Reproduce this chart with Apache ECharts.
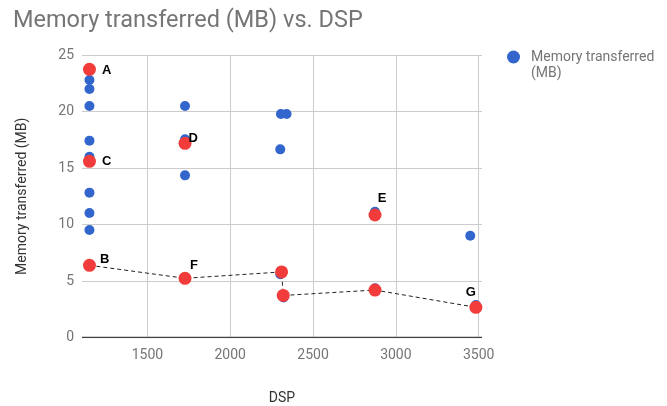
<!DOCTYPE html>
<html>
<head>
<meta charset="utf-8">
<script src="https://cdn.jsdelivr.net/npm/echarts@6/dist/echarts.min.js"></script>
<style>
html,body{margin:0;padding:0;background:#fff;}
#chart{width:667px;height:406px;}
</style>
</head>
<body>
<div id="chart"></div>
<script>
// Blue series: DSP and memory transferred (MB)
var blueDSP = [1150,1150,1150,1150,1150,1150,1150,1150,1727,1727,1727,2306,2340,2302,2302,2322,2874,2874,3449,3483];
var blueMB  = [22.79,21.99,20.49,17.42,16.0,12.82,11.02,9.51,20.49,17.54,14.35,19.78,19.78,16.65,5.6,3.55,11.13,4.35,9.01,2.87];

// Highlighted (red) points
var redDSP   = [1150,1150,1150,1727,1727,2310,2320,2874,2874,3483];
var redMB    = [23.73,15.59,6.39,17.18,5.24,5.80,3.72,10.84,4.20,2.67];
var redLabel = ['A','C','B','D','F','','','E','','G'];

// Dashed connecting line (indices into red points)
var lineOrder = [2,4,5,6,8,9];

var titleText = 'Memory transferred (MB) vs. DSP';
var seriesName = 'Memory transferred (MB)';
var legendLine1 = 'Memory transferred';
var legendLine2 = '(MB)';
var xName = 'DSP';
var yName = 'Memory transferred (MB)';

var labelStyles = {
  A: {position:'right', offset:[1,1]},
  B: {position:'right', offset:[-1,-6]},
  C: {position:'right', offset:[1,0]},
  D: {position:'right', offset:[-8,-5]},
  E: {position:'top', offset:[7,1]},
  F: {position:'top', offset:[9,5]},
  G: {position:'top', offset:[-5,3]}
};

var blueData = blueDSP.map(function(x,i){return [x, blueMB[i]];});
var redData = redDSP.map(function(x,i){
  var l = redLabel[i];
  var d = {value:[x, redMB[i]]};
  if (l) {
    var s = labelStyles[l];
    d.label = {show:true, formatter:l, position:s.position, offset:s.offset};
  }
  return d;
});
var lineData = lineOrder.map(function(k){return [redDSP[k], redMB[k]];});

var chart = echarts.init(document.getElementById('chart'));
chart.setOption({
  animation:false,
  backgroundColor:'#fff',
  textStyle:{fontFamily:'Roboto'},
  title:{
    text:titleText, left:8, top:4,
    textStyle:{fontFamily:'Roboto', fontSize:23.5, fontWeight:'normal', color:'#757575'}
  },
  legend:{
    data:[{name:seriesName, icon:'circle'}],
    left:502, top:45, orient:'vertical',
    itemWidth:13, itemHeight:13, itemGap:6,
    formatter:function(){return legendLine1;},
    textStyle:{fontFamily:'Roboto', fontSize:14, color:'#757575', padding:[0,0,0,6]}
  },
  graphic:[{
    type:'text', left:531, top:66,
    style:{text:legendLine2, fill:'#757575', font:'14px Roboto'}
  }],
  grid:{left:82, right:185, top:55, bottom:68.5, containLabel:false, outerBoundsMode:'none'},
  xAxis:{
    type:'value', min:1105, max:3520,
    splitNumber:5,
    name:xName, nameLocation:'middle', nameGap:54,
    nameTextStyle:{fontFamily:'Roboto', fontSize:14, color:'#333'},
    axisLine:{show:false},
    axisTick:{show:false},
    axisLabel:{showMinLabel:false, showMaxLabel:false, fontFamily:'Roboto', fontSize:14, color:'#757575', margin:11,
      formatter:function(v){return String(v);}},
    splitLine:{show:true, showMinLine:false, showMaxLine:false, lineStyle:{color:'#cccccc', width:1}}
  },
  yAxis:{
    type:'value', min:0, max:25, interval:5,
    name:yName, nameLocation:'middle', nameGap:53,
    nameTextStyle:{fontFamily:'Roboto', fontSize:14, color:'#333'},
    axisLine:{show:false},
    axisTick:{show:false},
    axisLabel:{fontFamily:'Roboto', fontSize:14, color:'#757575', margin:8},
    splitLine:{show:true, lineStyle:{color:'#cccccc', width:1}}
  },
  series:[
    {
      type:'line', name:'_line', data:lineData, symbol:'none', silent:true,
      lineStyle:{color:'#222', width:1, type:[4,3]}, z:3
    },
    {
      type:'scatter', name:seriesName, data:blueData, symbolSize:10,
      itemStyle:{color:'#3366cc', opacity:1}, z:2
    },
    {
      type:'scatter', name:'_red', data:redData, symbolSize:13,
      itemStyle:{color:'#f23b3b', opacity:1}, z:4,
      label:{show:false, color:'#000', fontFamily:'Arial', fontWeight:'bold', fontSize:13}
    },
    {
      type:'line', name:'_axis', data:[[1105,0],[3520,0]], symbol:'none', silent:true,
      lineStyle:{color:'#444', width:1.5}, z:1
    }
  ]
});
</script>
</body>
</html>
